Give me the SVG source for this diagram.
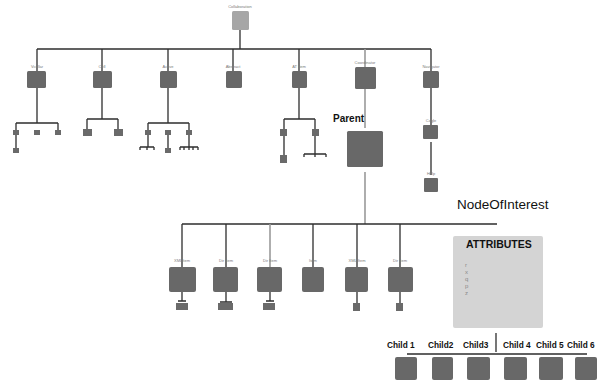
<svg xmlns="http://www.w3.org/2000/svg" width="597" height="382" viewBox="0 0 597 382">
<style>
.ln{stroke:#2e2e2e;stroke-width:1.3;fill:none}
.lg{stroke:#9a9a9a;stroke-width:1.6;fill:none}
.bx{fill:#686868}
.sm{fill:#6a6a6a}
.tiny{font-family:"Liberation Sans",Arial,sans-serif;font-size:4px;fill:#7a7a7a;text-anchor:middle}
.lbl{font-family:"Liberation Sans",Arial,sans-serif;font-weight:bold;fill:#111}
</style>
<rect width="597" height="382" fill="#ffffff"/>
<g id="connectors">
<path class="ln" d="M240,30V49M37,49H431M37,49V71M102,49V71M168,49V71M233,49V71M299,49V71M431,49V71"/>
<path class="lg" d="M365,49V67M365,89V128M365,172V224"/>
<path class="ln" d="M37,88V123M16,123H58M16,123V130M58,123V130M16,135V148"/>
<path class="ln" d="M102,88V119M87,119H118M87,119V129M118,119V129"/>
<path class="ln" d="M168,88V123M148,123H189M148,123V130M189,123V130M148,135V147M140,147H154M140,147V150M147,147V150M154,147V150M168,135V148M189,135V147M180,147H198M180,147V150M184,147V150M189,147V150M193,147V150M198,147V150"/>
<path class="ln" d="M299,88V119M284,119H315M284,119V129M315,119V129M284,136V155M315,136V154M304,154H326M304,154V157M315,154V157M326,154V157"/>
<path class="ln" d="M431,88V125M431,142V175"/>
<path class="ln" d="M182,224H497M182,224V267M226,224V267M313,224V267M357,224V267M400,224V267"/>
<path class="lg" d="M270,224V267"/>
<path class="ln" d="M182,292V301M178,301H186M226,292V302M220,302H232M270,292V301M266,301H274M357,292V303M400,292V303"/>
<path class="ln" d="M496,333V352M407,354H587"/>
</g>
<g id="top"><text class="tiny" x="240" y="8">Collaboration</text><rect x="232" y="11" width="17" height="19" rx="1.5" fill="#a6a6a6"/></g>
<g id="n1"><text class="tiny" x="37" y="68">Vcollar</text><rect class="bx" x="27" y="71" width="19" height="17" rx="1.5"/></g>
<g id="n2"><text class="tiny" x="102" y="68">Cell</text><rect class="bx" x="93" y="71" width="19" height="17" rx="1.5"/></g>
<g id="n3"><text class="tiny" x="168" y="68">Active</text><rect class="bx" x="160" y="71" width="17" height="17" rx="1.5"/></g>
<g id="n4"><text class="tiny" x="233" y="68">Abstract</text><rect class="bx" x="226" y="71" width="16" height="17" rx="1.5"/></g>
<g id="n5"><text class="tiny" x="299" y="68">AT Item</text><rect class="bx" x="292" y="71" width="15" height="17" rx="1.5"/></g>
<g id="n6"><text class="tiny" x="365" y="64">Coordinator</text><rect class="bx" x="355" y="67" width="21" height="22" rx="1.5"/></g>
<g id="n7"><text class="tiny" x="431" y="68">Navigator</text><rect class="bx" x="423" y="71" width="16" height="17" rx="1.5"/></g>
<g id="s1"><rect class="sm" x="13" y="130" width="6" height="5"/><rect class="sm" x="34" y="130" width="6" height="5"/><rect class="sm" x="55" y="130" width="6" height="5"/><rect class="sm" x="13" y="148" width="6" height="5"/></g>
<g id="s2"><rect class="sm" x="83" y="129" width="9" height="7"/><rect class="sm" x="114" y="129" width="9" height="7"/></g>
<g id="s3"><rect class="sm" x="145" y="130" width="6" height="5"/><rect class="sm" x="165" y="130" width="6" height="5"/><rect class="sm" x="186" y="130" width="6" height="5"/><rect class="sm" x="165" y="148" width="6" height="5"/></g>
<g id="s5"><rect class="sm" x="280" y="129" width="7" height="7"/><rect class="sm" x="312" y="129" width="7" height="7"/><rect class="sm" x="280" y="155" width="7" height="8"/></g>
<g id="s7"><text class="tiny" x="431" y="122">Cagle</text><rect class="bx" x="423" y="125" width="15" height="14" rx="1"/><text class="tiny" x="431" y="175">Help</text><rect class="bx" x="424" y="178" width="14" height="14" rx="1"/></g>
<g id="parent"><text class="lbl" x="333" y="122" font-size="10">Parent</text><rect class="bx" x="347" y="131" width="36" height="36" rx="1.5"/></g>
<g id="c1"><text class="tiny" x="182" y="262">XMLItem</text><rect class="bx" x="169" y="267" width="27" height="25" rx="2"/><rect class="sm" x="176" y="303" width="12" height="7"/></g>
<g id="c2"><text class="tiny" x="226" y="262">Dir Item</text><rect class="bx" x="213" y="267" width="25" height="25" rx="2"/><rect class="sm" x="218" y="303" width="15" height="7"/></g>
<g id="c3"><text class="tiny" x="270" y="262">Dir Item</text><rect class="bx" x="257" y="267" width="25" height="25" rx="2"/><rect class="sm" x="263" y="303" width="12" height="7"/></g>
<g id="c4"><text class="tiny" x="313" y="262">Item</text><rect class="bx" x="302" y="267" width="22" height="25" rx="2"/></g>
<g id="c5"><text class="tiny" x="357" y="262">XML Item</text><rect class="bx" x="345" y="267" width="23" height="25" rx="2"/><rect class="sm" x="353" y="303" width="7" height="8"/></g>
<g id="c6"><text class="tiny" x="400" y="262">Dir Item</text><rect class="bx" x="388" y="267" width="25" height="25" rx="2"/><rect class="sm" x="396" y="303" width="7" height="8"/></g>
<g id="nodeOfInterest">
<text x="457" y="209" font-family="'Liberation Sans',Arial,sans-serif" font-size="13.5" fill="#111">NodeOfInterest</text>
<rect x="453" y="236" width="90" height="92" rx="2" fill="#d4d4d4"/>
<text class="lbl" x="466" y="248" font-size="10.5" fill="#333">ATTRIBUTES</text>
<g font-family="'Liberation Sans',Arial,sans-serif" font-size="6" fill="#8a8a8a">
<text x="465" y="267">r</text><text x="465" y="274">x</text><text x="465" y="281">q</text><text x="465" y="288">p</text><text x="465" y="295">z</text>
</g>
</g>
<g id="children" font-size="8.3">
<text class="lbl" x="387" y="348">Child 1</text>
<text class="lbl" x="428" y="348">Child2</text>
<text class="lbl" x="463" y="348">Child3</text>
<text class="lbl" x="503" y="348">Child 4</text>
<text class="lbl" x="536" y="348">Child 5</text>
<text class="lbl" x="567" y="348">Child 6</text>
</g>
<g id="child1"><rect class="bx" x="395" y="357" width="22" height="23" rx="2"/></g>
<g id="child2"><rect class="bx" x="432" y="357" width="21" height="23" rx="2"/></g>
<g id="child3"><rect class="bx" x="467" y="357" width="23" height="23" rx="2"/></g>
<g id="child4"><rect class="bx" x="504" y="357" width="23" height="23" rx="2"/></g>
<g id="child5"><rect class="bx" x="539" y="357" width="24" height="23" rx="2"/></g>
<g id="child6"><rect class="bx" x="575" y="357" width="22" height="23" rx="2"/></g>
</svg>
